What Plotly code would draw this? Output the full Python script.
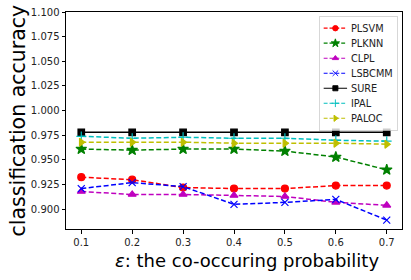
import plotly.graph_objects as go

x = [0.1, 0.2, 0.3, 0.4, 0.5, 0.6, 0.7]
plsvm = [0.9325, 0.930, 0.922, 0.921, 0.921, 0.924, 0.924]
plknn = [0.961, 0.960, 0.961, 0.961, 0.959, 0.953, 0.940]
clpl = [0.918, 0.915, 0.915, 0.914, 0.913, 0.907, 0.904]
lsbcmm = [0.921, 0.927, 0.923, 0.905, 0.907, 0.910, 0.889]
sure = [0.978, 0.978, 0.978, 0.978, 0.978, 0.978, 0.978]
ipal = [0.974, 0.972, 0.973, 0.972, 0.972, 0.970, 0.969]
paloc = [0.968, 0.968, 0.968, 0.967, 0.967, 0.967, 0.966]
y_ticks = [0.900, 0.925, 0.950, 0.975, 1.000, 1.025, 1.050, 1.075, 1.100]
x_ticks = [0.1, 0.2, 0.3, 0.4, 0.5, 0.6, 0.7]

series = [
    ("PLSVM", plsvm, "#ff0000", "circle", "dash", 7),
    ("PLKNN", plknn, "#008000", "star", "dash", 8),
    ("CLPL", clpl, "#bf00bf", "triangle-up", "dash", 7),
    ("LSBCMM", lsbcmm, "#0000ff", "x-thin-open", "dash", 7),
    ("SURE", sure, "#000000", "square", "solid", 6.5),
    ("IPAL", ipal, "#00bfbf", "cross-thin-open", "dash", 7),
    ("PALOC", paloc, "#bfbf00", "triangle-right", "dash", 7),
]

fig = go.Figure()
for name, vals, col, sym, dash, size in series:
    fig.add_trace(go.Scatter(
        x=x, y=vals, name=name, mode="lines+markers",
        line=dict(color=col, width=1.5, dash=dash if dash == "solid" else "5px,2.5px"),
        marker=dict(symbol=sym, size=size, color=col, line=dict(color=col, width=1.2)),
    ))

fig.update_layout(
    width=411, height=280,
    margin=dict(l=66, r=9, t=12, b=51),
    paper_bgcolor="white", plot_bgcolor="white",
    font=dict(family="DejaVu Sans", color="#222"),
    showlegend=True,
    legend=dict(x=1, y=1, xanchor="right", yanchor="top",
                bgcolor="rgba(255,255,255,0.8)", bordercolor="#cccccc", borderwidth=1,
                font=dict(size=12.5), tracegroupgap=0, itemwidth=30),
    annotations=[
        dict(text="<i>ε</i>: the co-occuring probability", xref="paper", yref="paper",
             x=0.54, y=-0.147, xanchor="center", yanchor="middle", showarrow=False,
             font=dict(size=18, color="black")),
        dict(text="classification accuracy", xref="paper", yref="paper",
             x=-0.143, y=0.5, xanchor="center", yanchor="middle", showarrow=False,
             textangle=-90, font=dict(size=20.5, color="black")),
    ],
)
fig.update_xaxes(
    range=[0.07, 0.73], tickvals=x_ticks, ticktext=[f"{v:.1f}" for v in x_ticks],
    showgrid=False, zeroline=False, showline=True, linecolor="black", linewidth=1,
    mirror=True, ticks="outside", ticklen=3.5, tickcolor="black", automargin=False,
    tickfont=dict(size=10, color="#222"),
)
fig.update_yaxes(
    range=[0.88, 1.10], tickvals=y_ticks, ticktext=[f"{v:.3f}" for v in y_ticks],
    showgrid=False, zeroline=False, showline=True, linecolor="black", linewidth=1,
    mirror=True, ticks="outside", ticklen=3.5, tickcolor="black", automargin=False,
    tickfont=dict(size=10, color="#222"),
)

post = """
document.body.style.margin = '0';
document.body.style.padding = '0';
var gd = document.getElementById('{plot_id}');
function fixLegend() {
  var lg = gd.querySelector('g.legend');
  if (!lg) return;
  var bg = lg.querySelector('rect.bg');
  var w = parseFloat(bg.getAttribute('width'));
  var s = 0.78;
  lg.setAttribute('transform', 'translate(' + (397 - w * s) + ',16) scale(' + s + ')');
}
fixLegend();
gd.on('plotly_afterplot', fixLegend);
"""
fig.write_html("out.html", post_script=post, config={"displayModeBar": False})
